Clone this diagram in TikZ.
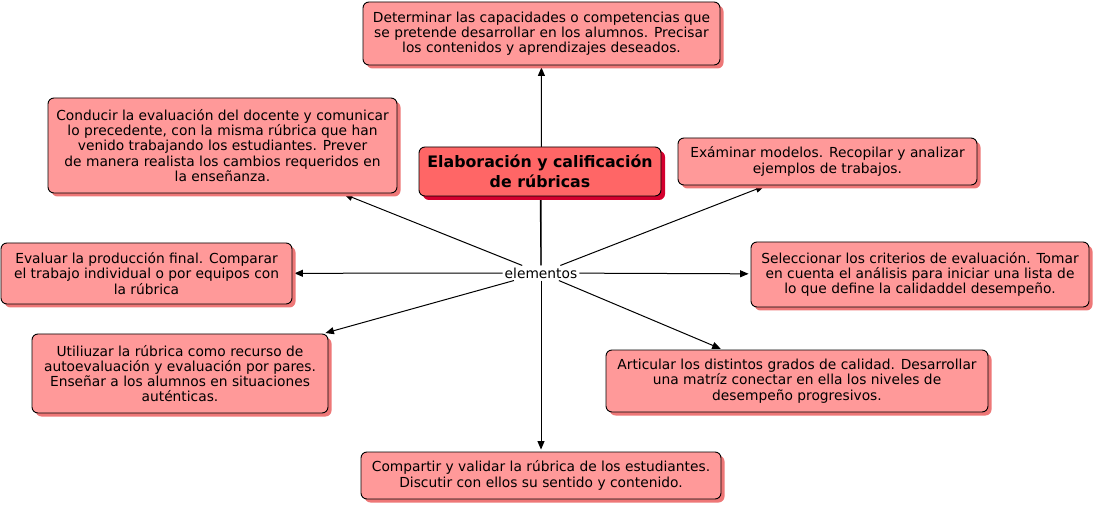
\documentclass[tikz,border=0pt]{standalone}
\usepackage{fontspec}
\setmainfont{DejaVu Sans}
\usepackage{xcolor}
\usetikzlibrary{positioning, shadows, arrows.meta, backgrounds}

\definecolor{boxfill}{HTML}{FF9999}
\definecolor{boxshadow}{HTML}{EE7777}
\definecolor{mainfill}{HTML}{FF6666}
\definecolor{mainshadow}{HTML}{D4002E}

\tikzset{
    concept/.style={draw=black, line width=0.9pt, rounded corners=6pt, fill=boxfill,
        align=center, inner sep=2pt, font=\fontsize{13.8}{15.2}\selectfont,
        drop shadow={fill=boxshadow, opacity=1, shadow xshift=3.5pt, shadow yshift=-3.5pt}},
    mainconcept/.style={concept, fill=mainfill, font=\fontsize{15.8}{20}\selectfont\bfseries,
        drop shadow={fill=mainshadow, opacity=1, shadow xshift=4pt, shadow yshift=-4pt}},
    link/.style={line width=1pt, -{Triangle[length=8.5pt,width=7pt]}, shorten >=2pt}
}

\begin{document}
\begin{tikzpicture}[x=1pt, y=-1pt]
    \useasboundingbox (0,0) rectangle (1096,505);
    \node[mainconcept, minimum width=242pt, minimum height=49pt] (main) at (540,171.5)
        {Elaboración y calificación\\de rúbricas};
    \node[fill=white, inner sep=2pt, font=\fontsize{13.8}{15}\selectfont] (elem) at (541,273) {elementos};

    \node[concept, minimum width=357pt, minimum height=63pt] (capac) at (541.5,33.5)
        {Determinar las capacidades o competencias que\\se pretende desarrollar en los alumnos. Precisar\\los contenidos y aprendizajes deseados.};
    \node[concept, minimum width=349pt, minimum height=95pt] (conducir) at (222.5,145.5)
        {Conducir la evaluación del docente y comunicar\\lo precedente, con la misma rúbrica que han\\venido trabajando los estudiantes. Prever\\ de manera realista los cambios requeridos en\\la enseñanza.};
    \node[concept, minimum width=299pt, minimum height=47pt] (modelos) at (827.5,161.5)
        {Exáminar modelos. Recopilar y analizar\\ejemplos de trabajos.};
    \node[concept, minimum width=291pt, minimum height=61pt] (evaluar) at (146.5,273.5)
        {Evaluar la producción final. Comparar\\el trabajo individual o por equipos con\\la rúbrica};
    \node[concept, minimum width=338pt, minimum height=65pt] (criterios) at (920,274.5)
        {Seleccionar los criterios de evaluación. Tomar\\en cuenta el análisis para iniciar una lista de\\lo que define la calidaddel desempeño.};
    \node[concept, minimum width=296pt, minimum height=79pt] (autoeval) at (180,373.5)
        {Utiliuzar la rúbrica como recurso de\\autoevaluación y evaluación por pares.\\ Enseñar a los alumnos en situaciones\\auténticas.};
    \node[concept, minimum width=382pt, minimum height=62pt] (grados) at (797,381)
        {Articular los distintos grados de calidad. Desarrollar\\una matríz conectar en ella los niveles de\\desempeño progresivos.};
    \node[concept, minimum width=360pt, minimum height=47pt] (compartir) at (541,475.5)
        {Compartir y validar la rúbrica de los estudiantes.\\Discutir con ellos su sentido y contenido.};

    % connectors behind the boxes
    \begin{scope}[on background layer]
        \draw[line width=1pt] (main) -- (elem);
        \draw[link] (elem) -- (capac);
        \draw[link] (elem) -- (conducir);
        \draw[link] (elem) -- (modelos);
        \draw[link] (elem) -- (evaluar);
        \draw[link] (elem) -- (criterios);
        \draw[link] (elem) -- (autoeval);
        \draw[link] (elem) -- (grados);
        \draw[link] (elem) -- (compartir);
    \end{scope}
\end{tikzpicture}
\end{document}
